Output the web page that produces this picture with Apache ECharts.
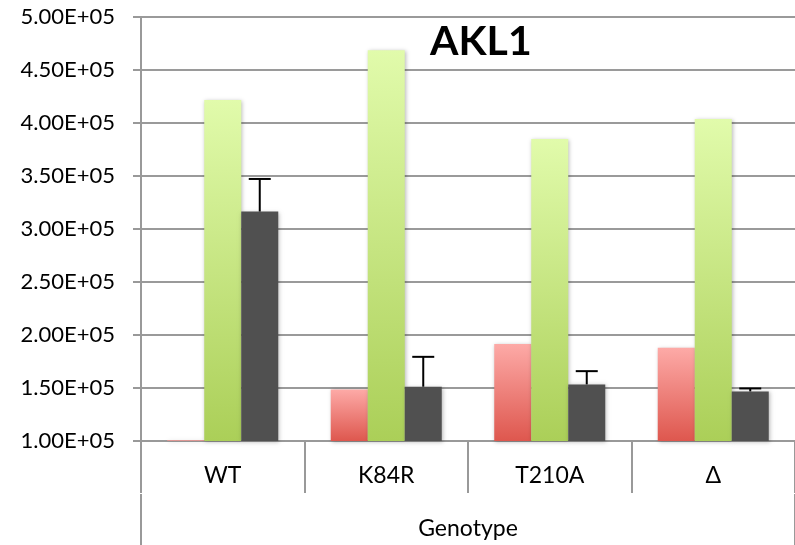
<!DOCTYPE html>
<html>
<head>
<meta charset="utf-8">
<script src="https://cdn.jsdelivr.net/npm/echarts@6/dist/echarts.min.js"></script>
<style>html,body{margin:0;padding:0;background:#fff}#c{width:795px;height:545px}</style>
</head>
<body>
<div id="c"></div>
<script>
var categories = ['WT', 'K84R', 'T210A', '\u0394'];
var redValues = [100600, 148700, 191600, 187900];
var greenValues = [421600, 468700, 384900, 403700];
var greyValues = [316500, 151200, 153400, 146800];
var greyErrorTop = [347200, 179400, 165900, 149600];
var yTicks = [100000, 150000, 200000, 250000, 300000, 350000, 400000, 450000, 500000];
var chartTitle = 'AKL1';
var xAxisTitle = 'Genotype';

function sci(v) {
  var e = Math.floor(Math.log10(v));
  var m = v / Math.pow(10, e);
  return m.toFixed(2) + 'E+' + (e < 10 ? '0' + e : e);
}

var chart = echarts.init(document.getElementById('c'), null, {renderer: 'canvas'});
var FONT = 'Lato';
var BW = 37;

function grad(top, bottom) {
  return new echarts.graphic.LinearGradient(0, 0, 0, 1, [
    {offset: 0, color: top}, {offset: 1, color: bottom}
  ]);
}
var shadow = {shadowBlur: 4, shadowColor: 'rgba(0,0,0,0.28)', shadowOffsetX: 1, shadowOffsetY: 1};

var errData = greyValues.map(function (v, i) { return [i, v, greyErrorTop[i]]; });

chart.setOption({
  animation: false,
  backgroundColor: '#fff',
  title: {
    text: chartTitle,
    left: 425, top: 16,
    textStyle: {fontFamily: FONT, fontWeight: 'bold', fontSize: 41, color: '#000'}
  },
  grid: {left: 141, right: -2, top: 17, bottom: 104, containLabel: false},
  xAxis: [{
    type: 'category',
    data: categories,
    position: 'bottom',
    axisLine: {show: true, lineStyle: {color: '#999', width: 2}},
    axisTick: {show: true, alignWithLabel: false, length: 52, lineStyle: {color: '#999', width: 2}},
    axisLabel: {fontFamily: FONT, fontSize: 23, color: '#000', margin: 23},
    splitLine: {show: false}
  }, {
    type: 'category',
    data: [''],
    position: 'bottom',
    offset: 53,
    axisLine: {show: false},
    axisTick: {show: true, length: 52, lineStyle: {color: '#999', width: 2}},
    axisLabel: {show: false},
    name: xAxisTitle,
    nameLocation: 'middle',
    nameGap: 23,
    nameTextStyle: {fontFamily: FONT, fontSize: 23, color: '#000'}
  }],
  yAxis: {
    type: 'value',
    min: yTicks[0], max: yTicks[yTicks.length - 1], interval: 50000,
    axisLine: {show: true, lineStyle: {color: '#999', width: 2}},
    axisTick: {show: true, length: 8, lineStyle: {color: '#999', width: 2}},
    axisLabel: {fontFamily: FONT, fontSize: 22, color: '#000', margin: 26, formatter: sci},
    splitLine: {show: true, lineStyle: {color: '#9a9a9a', width: 2}}
  },
  series: [{
    type: 'bar', name: 'red', data: redValues, barWidth: BW, barGap: '0%',
    itemStyle: Object.assign({color: grad('#fdaaa7', '#de574e')}, shadow)
  }, {
    type: 'bar', name: 'green', data: greenValues, barWidth: BW, barGap: '0%',
    itemStyle: Object.assign({color: grad('#e1fbab', '#abcf58')}, shadow)
  }, {
    type: 'bar', name: 'grey', data: greyValues, barWidth: BW, barGap: '0%',
    itemStyle: Object.assign({color: '#505050'}, shadow)
  }, {
    type: 'custom', name: 'error', data: errData, z: 10,
    renderItem: function (params, api) {
      var base = api.coord([api.value(0), api.value(1)]);
      var top = api.coord([api.value(0), api.value(2)]);
      var x = base[0] + BW;
      var cap = 11;
      return {
        type: 'group',
        children: [{
          type: 'line', shape: {x1: x, y1: base[1], x2: x, y2: top[1]},
          style: {stroke: '#000', lineWidth: 2}
        }, {
          type: 'line', shape: {x1: x - cap, y1: top[1], x2: x + cap, y2: top[1]},
          style: {stroke: '#000', lineWidth: 2}
        }]
      };
    }
  }]
});
</script>
</body>
</html>
